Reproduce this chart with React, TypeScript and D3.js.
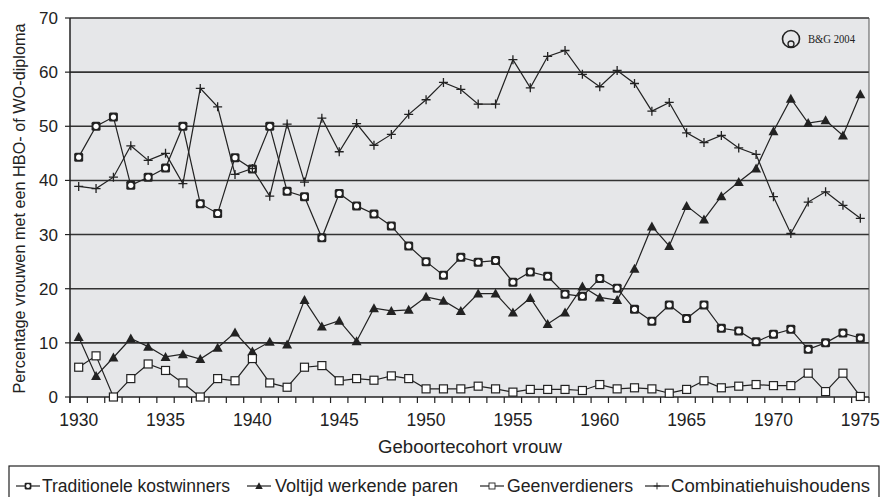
import React from "react";
import * as d3 from "d3";

const years: number[] = d3.range(1930, 1976);
const yTicks = [0, 10, 20, 30, 40, 50, 60, 70];
const xLabelYears = [1930, 1935, 1940, 1945, 1950, 1955, 1960, 1965, 1970, 1975];

const traditioneel = [44.3, 50.0, 51.7, 39.1, 40.6, 42.3, 50.0, 35.7, 33.9, 44.2, 42.1, 50.0, 38.0, 37.0, 29.4, 37.6, 35.3, 33.8, 31.6, 27.9, 25.0, 22.5, 25.8, 24.9, 25.2, 21.2, 23.1, 22.3, 19.0, 18.6, 21.9, 20.1, 16.2, 14.0, 17.0, 14.5, 17.0, 12.7, 12.2, 10.2, 11.6, 12.5, 8.8, 10.0, 11.8, 10.9];
const voltijd = [11.1, 3.9, 7.3, 10.8, 9.3, 7.4, 7.9, 7.0, 9.1, 11.9, 8.4, 10.2, 9.7, 17.9, 13.0, 14.1, 10.3, 16.4, 15.9, 16.1, 18.5, 17.8, 15.9, 19.1, 19.1, 15.6, 18.3, 13.5, 15.6, 20.4, 18.4, 17.9, 23.7, 31.5, 27.9, 35.3, 32.8, 37.1, 39.7, 42.2, 49.1, 55.1, 50.6, 51.1, 48.3, 55.9];
const geenverdieners = [5.5, 7.6, 0, 3.4, 6.1, 4.9, 2.6, 0, 3.4, 3.0, 7.1, 2.6, 1.8, 5.5, 5.8, 3.0, 3.4, 3.1, 3.9, 3.4, 1.5, 1.5, 1.5, 2.0, 1.5, 0.9, 1.4, 1.4, 1.4, 1.2, 2.3, 1.5, 1.7, 1.5, 0.7, 1.4, 3.0, 1.7, 2.0, 2.3, 2.1, 2.1, 4.4, 1.0, 4.4, 0.1];
const combinatie = [38.9, 38.5, 40.6, 46.4, 43.7, 45.0, 39.4, 57.0, 53.6, 41.1, 42.2, 37.1, 50.4, 39.7, 51.5, 45.3, 50.5, 46.5, 48.5, 52.2, 54.9, 58.1, 56.8, 54.1, 54.1, 62.3, 57.1, 62.9, 64.0, 59.6, 57.3, 60.3, 57.9, 52.8, 54.4, 48.8, 47.0, 48.3, 46.0, 44.8, 37.0, 30.2, 36.0, 37.9, 35.4, 33.0];

const seriesNames = ["Traditionele kostwinners", "Voltijd werkende paren", "Geenverdieners", "Combinatiehuishoudens"];
const seriesValues = [traditioneel, voltijd, geenverdieners, combinatie];
const markerTypes = ["trad", "tri", "sq", "plus"];

const W = 883;
const H = 497;
const left = 70;
const right = 869;
const top = 18;
const bottom = 397;
const ink = "#222";
const font = "'Liberation Sans', Arial, sans-serif";

function Marker({ type, x, y }: { type: string; x: number; y: number }) {
  if (type === "trad") {
    return (
      <g>
        <rect x={x - 4.5} y={y - 4.5} width={9} height={9} rx={1.5} fill={ink} />
        <circle cx={x} cy={y} r={2.6} fill="#fff" />
      </g>
    );
  }
  if (type === "tri") {
    const s = 5;
    return <path d={`M${x},${y - s} L${x + s},${y + s * 0.8} L${x - s},${y + s * 0.8} Z`} fill={ink} />;
  }
  if (type === "sq") {
    return <rect x={x - 4} y={y - 4} width={8} height={8} fill="#fff" stroke={ink} strokeWidth={1.2} />;
  }
  return (
    <path d={`M${x - 4.5},${y} H${x + 4.5} M${x},${y - 4.5} V${y + 4.5}`} stroke={ink} strokeWidth={1.3} />
  );
}

export default function App() {
  const x = d3.scaleBand<string>().domain(years.map(String)).range([left, right]).padding(0);
  const y = d3.scaleLinear().domain([0, 70]).range([bottom, top]);
  const cx = (yr: number) => (x(String(yr)) as number) + x.bandwidth() / 2;
  const line = d3
    .line<number>()
    .x((_, i) => cx(years[i]))
    .y((d) => y(d));

  const tickXs = years.map((yr) => x(String(yr)) as number).concat([right]);

  const legendItems = [
    { mx: 28, tx: 42, tw: 188 },
    { mx: 259, tx: 275, tw: 183 },
    { mx: 492, tx: 507, tw: 126 },
    { mx: 657, tx: 671, tw: 199 },
  ];

  return (
    <svg width={W} height={H} style={{ position: "absolute", left: 0, top: 0 }} fontFamily={font}>
      <rect x={0} y={0} width={W} height={H} fill="#fff" />
      <rect x={left} y={top} width={right - left} height={bottom - top} fill="#e6e7e9" />
      {yTicks.filter((t) => t > 0).map((t) => (
        <line key={t} x1={left} x2={right} y1={y(t)} y2={y(t)} stroke="#333" strokeWidth={1.6} />
      ))}
      <line x1={right} x2={right} y1={top} y2={bottom} stroke="#555" strokeWidth={1} />
      <line x1={left} x2={left} y1={top} y2={bottom + 6} stroke={ink} strokeWidth={1.5} />
      <line x1={left} x2={right} y1={bottom} y2={bottom} stroke={ink} strokeWidth={1.5} />
      {yTicks.map((t) => (
        <g key={t}>
          <line x1={left - 5} x2={left} y1={y(t)} y2={y(t)} stroke={ink} strokeWidth={1.2} />
          <text x={58} y={y(t)} dy="0.35em" textAnchor="end" fontSize={17} fill={ink}>
            {t}
          </text>
        </g>
      ))}
      {tickXs.map((tx, i) => (
        <line key={i} x1={tx} x2={tx} y1={bottom} y2={bottom + 6} stroke={ink} strokeWidth={1.2} />
      ))}
      {xLabelYears.map((yr) => (
        <text key={yr} x={cx(yr)} y={420} dy="0.35em" textAnchor="middle" fontSize={17.5} fill={ink}>
          {yr}
        </text>
      ))}
      <text
        x={378}
        y={447}
        dy="0.35em"
        fontSize={17.5}
        fill={ink}
        textLength={184}
        lengthAdjust="spacingAndGlyphs"
      >
        Geboortecohort vrouw
      </text>
      <text
        transform={`translate(19,${(top + bottom) / 2 + 1}) rotate(-90)`}
        dy="0.35em"
        textAnchor="middle"
        fontSize={17}
        fill={ink}
        textLength={370}
        lengthAdjust="spacingAndGlyphs"
      >
        Percentage vrouwen met een HBO- of WO-diploma
      </text>

      {seriesValues.map((vals, si) => (
        <path key={si} d={line(vals) || ""} fill="none" stroke={ink} strokeWidth={1.2} />
      ))}
      {seriesValues.map((vals, si) => (
        <g key={si}>
          {vals.map((v, i) => (
            <Marker key={i} type={markerTypes[si]} x={cx(years[i])} y={y(v)} />
          ))}
        </g>
      ))}

      <g>
        <circle cx={791} cy={39} r={8.5} fill="none" stroke={ink} strokeWidth={1.6} />
        <circle cx={791} cy={44} r={3} fill="none" stroke={ink} strokeWidth={1.3} />
        <text
          x={808}
          y={43}
          fontFamily="'Liberation Serif', 'Times New Roman', serif"
          fontSize={11.5}
          fill={ink}
          textLength={47}
          lengthAdjust="spacingAndGlyphs"
        >
          B&amp;G 2004
        </text>
      </g>

      <rect x={9} y={466} width={870} height={40} fill="none" stroke={ink} strokeWidth={1.2} />
      {legendItems.map((it, i) => (
        <g key={i}>
          <line x1={it.mx - 12} x2={it.mx + 12} y1={486} y2={486} stroke={ink} strokeWidth={1.2} />
          <g transform={`translate(${it.mx},486) scale(0.75) translate(${-it.mx},-486)`}>
            <Marker type={markerTypes[i]} x={it.mx} y={486} />
          </g>
          <text
            x={it.tx}
            y={486}
            dy="0.35em"
            fontSize={17.5}
            fill={ink}
            textLength={it.tw}
            lengthAdjust="spacingAndGlyphs"
          >
            {seriesNames[i]}
          </text>
        </g>
      ))}
    </svg>
  );
}
